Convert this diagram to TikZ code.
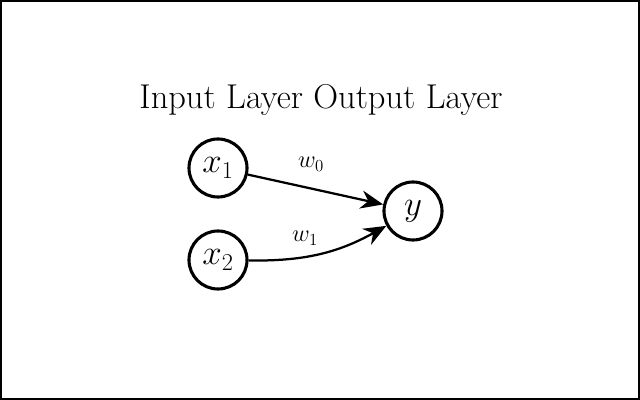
\documentclass[tikz,border=0pt]{standalone}
\usepackage{amsmath, amssymb}
\usetikzlibrary{arrows.meta}

\begin{document}
\begin{tikzpicture}[x=0.025cm, y=-0.025cm,
		neuron/.style={circle, draw, line width=2.2pt, minimum size=1.45cm, inner sep=0pt, font=\fontsize{24}{28}\selectfont},
		link/.style={line width=1.6pt, -{Stealth[length=16pt, width=13pt]}},
		weight/.style={font=\fontsize{18}{22}\selectfont}]
			\useasboundingbox (0,0) rectangle (640,400);
			\draw[line width=1.5pt] (1,1) rectangle (639,399);
			
			\node[font=\fontsize{24.5}{29}\selectfont] (title) at (321,100) {Input Layer Output Layer};
			
			\node[neuron] (x1) at (218,168) {$x_1$};
			\node[neuron] (x2) at (218,260) {$x_2$};
			\node[neuron] (y) at (413,211) {$y$};
			
			\draw[link] (x1) -- (y);
			\draw[link] (x2) to[bend right=15] (y);
			
			\node[weight] (w0) at (311,164) {$w_0$};
			\node[weight] (w1) at (305,238) {$w_1$};
		\end{tikzpicture}
\end{document}
